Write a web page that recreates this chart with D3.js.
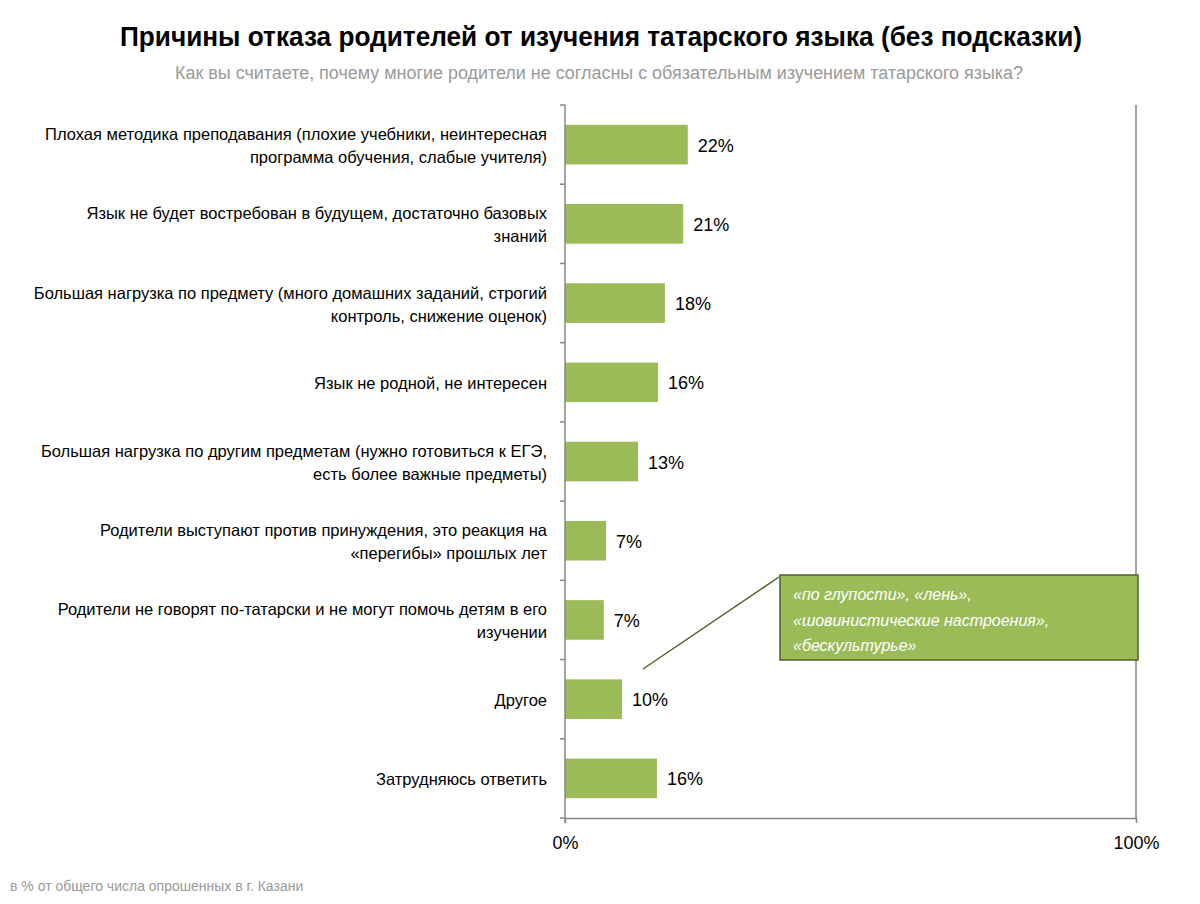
<!DOCTYPE html>
<html><head><meta charset="utf-8">
<script src="https://cdn.jsdelivr.net/npm/d3@7"></script>
<style>body{margin:0;background:#fff}</style>
</head><body><svg id="c" width="1200" height="904"></svg>
<script>
const categories = [
  "Плохая методика преподавания (плохие учебники, неинтересная\nпрограмма обучения, слабые учителя)",
  "Язык не будет востребован в будущем, достаточно базовых\nзнаний",
  "Большая нагрузка по предмету (много домашних заданий, строгий\nконтроль, снижение оценок)",
  "Язык не родной, не интересен",
  "Большая нагрузка по другим предметам (нужно готовиться к ЕГЭ,\nесть более важные предметы)",
  "Родители выступают против принуждения, это реакция на\n«перегибы» прошлых лет",
  "Родители не говорят по-татарски и не могут помочь детям в его\nизучении",
  "Другое",
  "Затрудняюсь ответить"
];
const values = [21.5, 20.7, 17.5, 16.3, 12.8, 7.2, 6.8, 10.0, 16.1];
const xTicks = [0, 100];
const calloutLines = ["«по глупости», «лень»,", "«шовинистические настроения»,", "«бескультурье»"];
const title = "Причины отказа родителей от изучения татарского языка (без подсказки)";
const subtitle = "Как вы считаете, почему многие родители не согласны с обязательным изучением татарского языка?";
const footnote = "в % от общего числа опрошенных в г. Казани";

(function () {
const svg = d3.select("#c");
const pL = 565, pR = 1136, pT = 105, pB = 818;
const x = d3.scaleLinear().domain([0, 100]).range([pL, pR]);
const y = d3.scaleBand().domain(d3.range(categories.length)).range([pT, pB]).paddingInner(0.5).paddingOuter(0.25);
const yb = d3.scaleBand().domain(d3.range(categories.length)).range([pT, pB]);
const green = "#9BBB59", axisCol = "#868686";

svg.append("text").attr("x", 601).attr("y", 46).attr("text-anchor", "middle")
  .attr("font-family", "'Liberation Sans Narrow','Arial Narrow',Arial,sans-serif").attr("font-weight", "bold")
  .attr("font-size", 28).attr("fill", "#000").attr("textLength", 962).attr("lengthAdjust", "spacingAndGlyphs").text(title);
svg.append("text").attr("x", 599).attr("y", 79).attr("text-anchor", "middle")
  .attr("font-family", "'Liberation Sans Narrow','Arial Narrow',Arial,sans-serif")
  .attr("font-size", 18).attr("fill", "#9a9a9a").attr("textLength", 848).attr("lengthAdjust", "spacingAndGlyphs").text(subtitle);

svg.append("line").attr("x1", pR).attr("x2", pR).attr("y1", pT).attr("y2", pB).attr("stroke", axisCol).attr("stroke-width", 1.5);

svg.selectAll("rect.bar").data(values).enter().append("rect").attr("class", "bar")
  .attr("x", x(0)).attr("y", (d, i) => y(i)).attr("width", d => x(d) - x(0)).attr("height", y.bandwidth()).attr("fill", green);

svg.selectAll("text.val").data(values).enter().append("text").attr("class", "val")
  .attr("x", d => x(d) + 10).attr("y", (d, i) => y(i) + y.bandwidth() / 2 + 7)
  .attr("font-family", "Arial, 'Liberation Sans', sans-serif").attr("font-size", 18).attr("fill", "#000")
  .text(d => Math.round(d) + "%");

categories.forEach((c, i) => {
  const lines = c.split("\n");
  const cy = yb(i) + yb.bandwidth() / 2 + 1;
  const lh = 23;
  const t = svg.append("text").attr("text-anchor", "end").attr("font-family", "Arial, 'Liberation Sans', sans-serif")
    .attr("font-size", 16.5).attr("fill", "#000");
  lines.forEach((l, j) => {
    t.append("tspan").attr("x", 547).attr("y", cy + (j - (lines.length - 1) / 2) * lh + 6).text(l);
  });
});

svg.append("line").attr("x1", pL).attr("x2", pL).attr("y1", pT).attr("y2", pB + 5).attr("stroke", axisCol).attr("stroke-width", 1.5);
d3.range(categories.length + 1).forEach(i => {
  const yy = pT + i * yb.step();
  svg.append("line").attr("x1", pL - 5).attr("x2", pL).attr("y1", yy).attr("y2", yy).attr("stroke", axisCol).attr("stroke-width", 1.5);
});

const xa = svg.append("g").attr("transform", `translate(0,${pB})`)
  .call(d3.axisBottom(x).tickValues(xTicks).tickSize(5).tickSizeOuter(0).tickFormat(d => d + "%"));
xa.select(".domain").attr("stroke", axisCol).attr("stroke-width", 1.5);
xa.selectAll(".tick line").attr("stroke", axisCol).attr("stroke-width", 1.5);
xa.selectAll(".tick text").attr("font-family", "Arial, 'Liberation Sans', sans-serif").attr("font-size", 18).attr("fill", "#000").attr("dy", "1.25em");

svg.append("line").attr("x1", 643).attr("y1", 669).attr("x2", 779).attr("y2", 577).attr("stroke", "#4F6228").attr("stroke-width", 1.5);
svg.append("rect").attr("x", 780).attr("y", 575).attr("width", 358).attr("height", 85).attr("fill", green).attr("stroke", "#4F6228").attr("stroke-width", 1.5);
calloutLines.forEach((l, j) => {
  svg.append("text").attr("x", 793).attr("y", 600 + j * 25.5).attr("font-family", "Arial, 'Liberation Sans', sans-serif")
    .attr("font-style", "italic").attr("font-size", 16).attr("fill", "#fff").text(l);
});

svg.append("text").attr("x", 10).attr("y", 891).attr("font-family", "Arial, 'Liberation Sans', sans-serif")
  .attr("font-size", 14).attr("fill", "#9a9a9a").text(footnote);
})();
</script></body></html>
